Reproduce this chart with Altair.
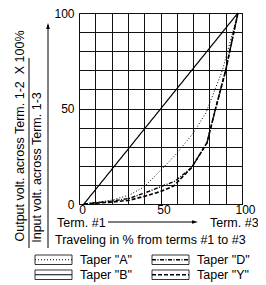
import altair as alt
import pandas as pd

# ---- data ----
taper_names = ['Taper "A"', 'Taper "B"', 'Taper "D"', 'Taper "Y"']
a_x = [3, 20, 31, 40, 50, 60, 70, 78, 88, 97.5]
a_y = [0, 2, 4.7, 9, 17.5, 26.5, 37, 48, 70, 100]
b_x = [3, 97.5]
b_y = [0, 100]
d_x = [3, 20, 31, 40, 50, 59, 69, 78.5, 83.5, 90, 97.5]
d_y = [0, 1.5, 3, 5.7, 9, 12, 19, 32, 49, 70, 100]
y_x = [3, 20, 31, 40, 50, 58, 69, 78.5, 83.5, 90, 97.5]
y_y = [0, 1, 2, 4, 6.5, 9.4, 19, 32, 49, 70, 100]
grid_values = list(range(0, 101, 10))

y_title_top = "Output volt. across Term. 1-2\u00a0 X 100%"
y_title_bottom = "Input volt. across Term. 1-3"
x_left_label = "Term. #1"
x_right_label = "Term. #3"
x_title = "Traveling in % from terms #1 to #3"

# ---- styles ----
dash_range = [[1, 2], [1, 0], [4, 1.5, 1, 1.5], [4, 2]]
width_range = [1.0, 1.6, 0.9, 1.8]
FONT = "Liberation Sans"
FS = 12.5
FS_AX = 12

rows = []
for name, xs, ys in zip(taper_names, [a_x, b_x, d_x, y_x], [a_y, b_y, d_y, y_y]):
    for i, (xv, yv) in enumerate(zip(xs, ys)):
        rows.append({"taper": name, "x": xv, "y": yv, "order": i})
curves = pd.DataFrame(rows)

dash_scale = alt.Scale(domain=taper_names, range=dash_range)
width_scale = alt.Scale(domain=taper_names, range=width_range)

W, H = 163, 191

base_x = alt.X("x:Q", scale=alt.Scale(domain=[0, 100], nice=False),
               axis=alt.Axis(values=grid_values, grid=True, ticks=False, domain=False,
                             title=None, labelExpr="datum.value % 50 == 0 ? datum.label : ''",
                             labelFlush=False, labelOverlap=False, labelPadding=0, labelOffset=3,
                             labelFontSize=FS_AX, labelFont=FONT, labelColor="black",
                             gridColor="#111111", gridWidth=1, gridOpacity=1))
base_y = alt.Y("y:Q", scale=alt.Scale(domain=[0, 100], nice=False),
               axis=alt.Axis(values=grid_values, grid=True, ticks=False, domain=False,
                             title=None, labelExpr="datum.value % 50 == 0 ? datum.label : ''",
                             labelFlush=False, labelOverlap=False, labelPadding=5,
                             labelFontSize=FS_AX, labelFont=FONT, labelColor="black",
                             gridColor="#111111", gridWidth=1, gridOpacity=1))

lines = alt.Chart(curves).mark_line(color="black", clip=False).encode(
    x=base_x, y=base_y, order="order:Q",
    detail="taper:N",
    strokeDash=alt.StrokeDash("taper:N", scale=dash_scale, legend=None),
    strokeWidth=alt.StrokeWidth("taper:N", scale=width_scale, legend=None),
)

# ---- annotation texts (pixel positions relative to plot area) ----
htexts = pd.DataFrame({
    "t": [x_left_label, x_right_label, x_title],
    "px": [-22, 131, -24],
    "py": [210, 210, 227],
})
htext_layer = alt.Chart(htexts).mark_text(align="left", baseline="middle", font=FONT,
                                          fontSize=FS, color="black").encode(
    x=alt.X("px:Q", scale=None), y=alt.Y("py:Q", scale=None), text="t:N")

vtexts = pd.DataFrame({
    "t": [y_title_top, y_title_bottom],
    "px": [-59, -42],
    "py": [123, 154.5],
})
vtext_layer = alt.Chart(vtexts).mark_text(align="center", baseline="middle", font=FONT,
                                          fontSize=FS, color="black", angle=270).encode(
    x=alt.X("px:Q", scale=None), y=alt.Y("py:Q", scale=None), text="t:N")

# rules: fraction bar, vertical arrow shaft, horizontal arrow shaft
rules = pd.DataFrame({
    "x1": [-50, -31, 29],
    "x2": [-50, -31, 116],
    "y1": [45, 12, 209],
    "y2": [235, 235, 209],
})
rule_layer = alt.Chart(rules).mark_rule(color="black", strokeWidth=1).encode(
    x=alt.X("x1:Q", scale=None), x2="x2:Q",
    y=alt.Y("y1:Q", scale=None), y2="y2:Q")

heads = pd.DataFrame({"px": [-31], "py": [13]})
head_up = alt.Chart(heads).mark_point(shape="M0,-1L0.6,1L-0.6,1Z", size=36, filled=True,
                                      color="black", opacity=1).encode(
    x=alt.X("px:Q", scale=None), y=alt.Y("py:Q", scale=None))
heads_r = pd.DataFrame({"px": [116], "py": [209]})
head_right = alt.Chart(heads_r).mark_point(shape="M1,0L-1,-0.6L-1,0.6Z", size=36, filled=True,
                                           color="black", opacity=1).encode(
    x=alt.X("px:Q", scale=None), y=alt.Y("py:Q", scale=None))

# ---- legend built from marks ----
leg_rows = []
for i, name in enumerate(taper_names):
    col, row = i // 2, i % 2
    x0 = -44 + col * 117
    y0 = 242 + row * 15
    leg_rows.append({"taper": name, "bx0": x0, "bx1": x0 + 37, "by0": y0, "by1": y0 + 9.5,
                     "my": y0 + 4.75, "tx": x0 + 45})
leg = pd.DataFrame(leg_rows)

leg_box = alt.Chart(leg).mark_rect(fill=None, stroke="black", strokeWidth=0.8).encode(
    x=alt.X("bx0:Q", scale=None), x2="bx1:Q",
    y=alt.Y("by0:Q", scale=None), y2="by1:Q")
leg_line = alt.Chart(leg).mark_rule(color="black").encode(
    x=alt.X("bx0:Q", scale=None), x2="bx1:Q",
    y=alt.Y("my:Q", scale=None),
    strokeDash=alt.StrokeDash("taper:N", scale=dash_scale, legend=None),
    strokeWidth=alt.StrokeWidth("taper:N", scale=width_scale, legend=None))
leg_text = alt.Chart(leg).mark_text(align="left", baseline="middle", font=FONT,
                                    fontSize=FS, color="black").encode(
    x=alt.X("tx:Q", scale=None), y=alt.Y("my:Q", scale=None), text="taper:N")

chart = alt.layer(
    lines, htext_layer, vtext_layer, rule_layer, head_up, head_right,
    leg_box, leg_line, leg_text
).resolve_scale(strokeDash="shared", strokeWidth="shared").properties(
    width=W, height=H,
    autosize=alt.AutoSizeParams(type="none"),
    padding={"left": 71, "top": 5, "right": 16, "bottom": 80},
    background="white",
).configure_view(stroke="black", strokeWidth=1)

chart.save("out.html", embed_options={"renderer": "svg", "actions": False})
